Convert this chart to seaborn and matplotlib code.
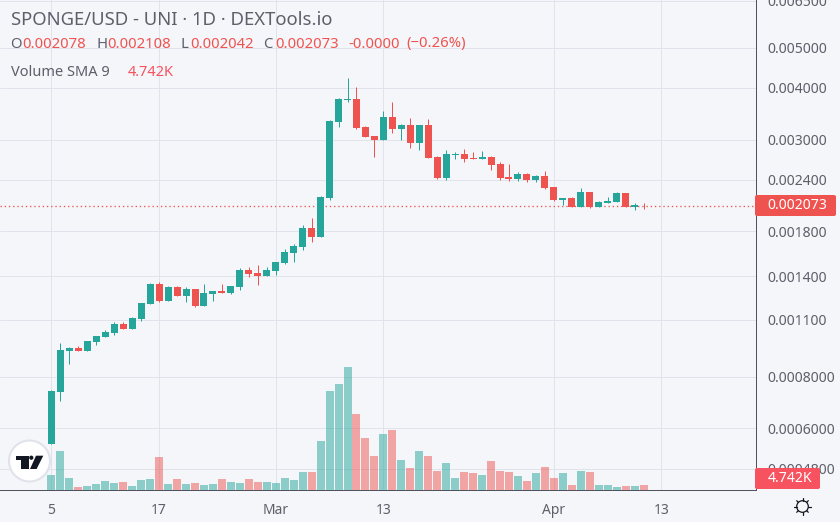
import matplotlib.pyplot as plt
import numpy as np
import seaborn as sns
from matplotlib.patches import Circle, FancyBboxPatch, Polygon, Rectangle
from matplotlib.ticker import NullLocator

# daily candles, day 0 = Feb 5
opens = [
    0.000551, 0.000737, 0.000925, 0.000940, 0.000925, 0.000972, 0.001000, 0.001022, 0.001074, 0.001044,
    0.001105, 0.001200, 0.001343, 0.001221, 0.001320, 0.001256, 0.001306, 0.001187, 0.001270, 0.001291,
    0.001277, 0.001320, 0.001452, 0.001427, 0.001404, 0.001444, 0.001510, 0.001596, 0.001650, 0.001834,
    0.001745, 0.002168, 0.003310, 0.003742, 0.003763, 0.003220, 0.003062, 0.002995, 0.003404, 0.003184,
    0.003256, 0.002946, 0.003256, 0.002724, 0.002423, 0.002755, 0.002770, 0.002709, 0.002694, 0.002724,
    0.002620, 0.002437, 0.002410, 0.002478, 0.002397, 0.002451, 0.002305, 0.002144, 0.002168, 0.002062,
    0.002241, 0.002062, 0.002108, 0.002120, 0.002229, 0.002062, 0.002078,
]
highs = [
    0.000744, 0.000965, 0.000945, 0.000951, 0.000977, 0.001005, 0.001039, 0.001086, 0.001086, 0.001117,
    0.001207, 0.001350, 0.001358, 0.001328, 0.001328, 0.001320, 0.001306, 0.001343, 0.001291, 0.001343,
    0.001328, 0.001468, 0.001476, 0.001492, 0.001476, 0.001518, 0.001632, 0.001678, 0.001865, 0.001939,
    0.002192, 0.003347, 0.003784, 0.004231, 0.004023, 0.003238, 0.003062, 0.003519, 0.003701, 0.003274,
    0.003385, 0.003256, 0.003366, 0.002739, 0.002832, 0.002801, 0.002848, 0.002801, 0.002816, 0.002739,
    0.002649, 0.002620, 0.002506, 0.002492, 0.002464, 0.002520, 0.002305, 0.002168, 0.002180, 0.002292,
    0.002241, 0.002132, 0.002180, 0.002241, 0.002229, 0.002108, 0.002108,
]
lows = [
    0.000551, 0.000700, 0.000861, 0.000925, 0.000925, 0.000956, 0.001000, 0.001011, 0.001044, 0.001044,
    0.001092, 0.001200, 0.001214, 0.001221, 0.001256, 0.001214, 0.001180, 0.001187, 0.001221, 0.001277,
    0.001270, 0.001299, 0.001396, 0.001337, 0.001404, 0.001412, 0.001502, 0.001518, 0.001623, 0.001697,
    0.001745, 0.002144, 0.003220, 0.003701, 0.003184, 0.003045, 0.002724, 0.002995, 0.003114, 0.002995,
    0.002864, 0.002832, 0.002709, 0.002410, 0.002397, 0.002694, 0.002649, 0.002694, 0.002694, 0.002534,
    0.002397, 0.002383, 0.002383, 0.002370, 0.002370, 0.002279, 0.002132, 0.002085, 0.002062, 0.002062,
    0.002050, 0.002062, 0.002108, 0.002120, 0.002062, 0.002028, 0.002042,
]
closes = [
    0.000739, 0.000930, 0.000940, 0.000925, 0.000977, 0.001005, 0.001028, 0.001074, 0.001044, 0.001111,
    0.001207, 0.001343, 0.001221, 0.001320, 0.001256, 0.001306, 0.001187, 0.001277, 0.001291, 0.001277,
    0.001328, 0.001452, 0.001419, 0.001404, 0.001452, 0.001518, 0.001605, 0.001659, 0.001834, 0.001745,
    0.002180, 0.003329, 0.003763, 0.003763, 0.003202, 0.003045, 0.002995, 0.003404, 0.003184, 0.003256,
    0.002946, 0.003256, 0.002709, 0.002423, 0.002770, 0.002770, 0.002694, 0.002694, 0.002724, 0.002605,
    0.002423, 0.002410, 0.002478, 0.002397, 0.002451, 0.002292, 0.002144, 0.002168, 0.002062, 0.002241,
    0.002062, 0.002120, 0.002132, 0.002229, 0.002062, 0.002085, 0.002073,
]
# volume in thousands
volumes = [
    9.9, 26.4, 7.8, 1.6, 2.3, 3.7, 5.7, 4.3, 5.0, 2.3,
    6.4, 7.1, 22.3, 3.7, 7.1, 3.7, 4.3, 3.0, 3.7, 7.1,
    5.0, 4.3, 7.1, 5.0, 5.0, 4.3, 7.6, 6.9, 12.4, 12.4,
    33.8, 68.3, 72.5, 84.2, 52.4, 35.2, 22.8, 38.6, 41.4, 20.7,
    14.5, 26.9, 22.8, 13.1, 18.6, 7.6, 12.4, 11.2, 9.9, 19.5,
    12.6, 11.9, 9.2, 5.7, 11.2, 15.4, 7.8, 11.2, 3.0, 12.6,
    11.9, 3.0, 3.0, 1.6, 2.3, 2.3, 3.0,
]
tick_days = [0, 12, 25, 37, 56, 68]
tick_names = ["5", "17", "Mar", "13", "Apr", "13"]
bold_names = ["Mar", "Apr"]
price_ticks = [0.0065, 0.005, 0.004, 0.003, 0.0024, 0.0018, 0.0014, 0.0011, 0.0008, 0.0006, 0.00048]
price_labels = [
    "0.006500", "0.005000", "0.004000", "0.003000", "0.002400", "0.001800",
    "0.001400", "0.001100", "0.0008000", "0.0006000", "0.0004800",
]

GREEN = "#26a69a"
RED = "#ef5350"
PINK = "#f7525f"
GREY = "#5d606b"
BG = "#f5f6f9"
GRID = "#e0e3eb"
FONT = "Noto Sans"
LINE = 0.72  # one pixel at dpi 100

sns.set_theme(style="white", rc={"axes.facecolor": BG, "figure.facecolor": BG})
plt.rcParams["font.family"] = [FONT, "DejaVu Sans"]

days = np.arange(len(opens))
o, h, l, c = map(np.array, (opens, highs, lows, closes))
is_up = c >= o
colors = np.where(is_up, GREEN, RED)

fig = plt.figure(figsize=(8.4, 5.22), dpi=100)
ax = fig.add_axes([0, 1 - 489.5 / 522, 755.5 / 840, 489.5 / 522])

# candles
ax.set_yscale("log")
ax.vlines(days, l, h, colors=colors, lw=LINE, zorder=3)
ax.bar(days, np.abs(c - o), bottom=np.minimum(o, c), width=0.78, color=colors, lw=0, zorder=4)
ax.axhline(closes[-1], color=RED, lw=0.95, ls=(0, (1, 2.2)), zorder=2)

# volume on its own linear scale, same day axis
ax_vol = ax.twinx()
sns.barplot(
    x=days, y=volumes, hue=colors, palette={GREEN: GREEN, RED: RED}, native_scale=True,
    dodge=False, width=0.89, alpha=0.5, saturation=1, linewidth=0, errorbar=None,
    legend=False, ax=ax_vol,
)
ax_vol.set_ylim(0, 337.8)
ax_vol.xaxis.set_visible(False)
ax_vol.yaxis.set_visible(False)
ax_vol.patch.set_visible(False)
for spine in ax_vol.spines.values():
    spine.set_visible(False)

# twinx and barplot both touch the shared axes, so set these last
ax.set_ylim(0.000427, 0.00653)
ax.set_xlim(-5.74, 78.48)
ax.set_xticks(tick_days, tick_names)
ax.set_yticks(price_ticks, price_labels)
ax.yaxis.set_minor_locator(NullLocator())
ax.yaxis.tick_right()
ax.grid(True, color=GRID, lw=LINE, zorder=0)
ax.set_axisbelow(True)
ax.tick_params(axis="x", length=0, pad=9.5, labelsize=10, labelcolor=GREY, labelbottom=True)
ax.tick_params(axis="y", length=0, pad=8.7, labelsize=10.1, labelcolor=GREY)
for label in ax.get_xticklabels():
    if label.get_text() in bold_names:
        label.set_fontweight("bold")
for side in ["top", "left"]:
    ax.spines[side].set_visible(False)
for side in ["right", "bottom"]:
    ax.spines[side].set_color("#50535e")
    ax.spines[side].set_linewidth(LINE)

# header, chips and icons in pixel coordinates
top = fig.add_axes([0, 0, 1, 1], zorder=10)
top.set_xlim(0, 840)
top.set_ylim(522, 0)
top.axis("off")

top.text(11, 20, "SPONGE/USD - UNI · 1D · DEXTools.io", fontsize=13.3, color=GREY, va="center")
for x, text, color in [
    (10, "O", GREY), (22, "0.002078", RED),
    (96, "H", GREY), (107, "0.002108", RED),
    (181, "L", GREY), (190, "0.002042", RED),
    (263, "C", GREY), (275, "0.002073", RED),
    (348, "-0.0000", RED), (406, "(−0.26%)", RED),
]:
    top.text(x, 44, text, fontsize=10.7, color=color, va="center")
top.text(11, 72, "Volume SMA 9", fontsize=10.5, color=GREY, va="center")
top.text(128, 72, "4.742K", fontsize=10.5, color=PINK, va="center")

top.add_patch(FancyBboxPatch((757, 197), 77, 17, boxstyle="round,pad=2,rounding_size=2", fc=RED, lw=0))
top.add_patch(Rectangle((755.5, 195), 5, 21, fc=RED, lw=0))
top.text(797.5, 205.5, "0.002073", fontsize=10.1, color="white", ha="center", va="center", fontweight="medium")
top.add_patch(FancyBboxPatch((757, 470), 61, 17, boxstyle="round,pad=2,rounding_size=2", fc=PINK, lw=0))
top.add_patch(Rectangle((755.5, 468), 5, 21, fc=PINK, lw=0))
top.text(790.5, 478.5, "4.742K", fontsize=10.1, color="white", ha="center", va="center", fontweight="medium")

# tradingview badge
top.add_patch(Circle((29.5, 461), 20.5, fc="white", ec=GRID, lw=1.5))
top.add_patch(Polygon([(16, 455.7), (29.3, 455.7), (29.3, 469), (21, 469), (21, 460), (16, 460)], fc="#131722", lw=0))
top.add_patch(Circle((31.3, 457.7), 2.1, fc="#131722", lw=0))
top.add_patch(Polygon([(36, 455.7), (43.3, 455.7), (36.6, 469), (30, 469)], fc="#131722", lw=0))

# settings gear
top.add_patch(Circle((802.5, 506.5), 5.8, fc="none", ec="#131722", lw=0.9))
for angle in np.deg2rad(np.arange(0, 360, 45)):
    top.plot(
        [802.5 + 5.8 * np.cos(angle), 802.5 + 8.2 * np.cos(angle)],
        [506.5 + 5.8 * np.sin(angle), 506.5 + 8.2 * np.sin(angle)],
        color="#131722", lw=0.9,
    )

fig.savefig("out.png", dpi=100)
